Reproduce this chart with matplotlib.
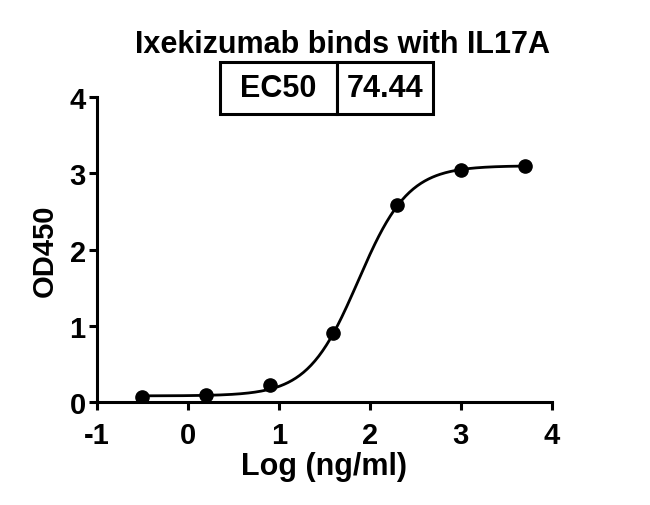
import matplotlib
matplotlib.use("Agg")
import matplotlib.pyplot as plt
import numpy as np

# measured points (log concentration vs OD450)
log_conc = [-0.5, 0.2, 0.9, 1.6, 2.3, 3.0, 3.7]
od450 = [0.07, 0.09, 0.22, 0.91, 2.58, 3.04, 3.10]

# 4PL fit parameters
bottom = 0.08
top = 3.10
ec50 = 74.44
hill = 1.57

plt.rcParams['font.family'] = ['Liberation Sans', 'DejaVu Sans']
plt.rcParams['font.weight'] = 'bold'
plt.rcParams['axes.unicode_minus'] = False

fig = plt.figure(figsize=(6.5, 5.06), dpi=100)
ax = fig.add_axes([0.149, 0.2036, 0.700, 0.6024])

xs = np.linspace(-0.5, 3.7, 300)
fit = bottom + (top - bottom) / (1 + 10 ** ((np.log10(ec50) - xs) * hill))
ax.plot(xs, fit, color='black', lw=2)
ax.plot(log_conc, od450, 'o', color='black', ms=9.5, zorder=3)

ax.set_xlim(-1, 4)
ax.set_ylim(0, 4)
ax.set_xticks([-1, 0, 1, 2, 3, 4])
ax.set_yticks([0, 1, 2, 3, 4])
for s in ['top', 'right']:
    ax.spines[s].set_visible(False)
for s in ['left', 'bottom']:
    ax.spines[s].set_linewidth(2.2)
ax.tick_params(width=2.2, length=6, labelsize=21)
ax.tick_params(axis='x', pad=8)
ax.tick_params(axis='y', pad=2)
for lab in ax.get_xticklabels() + ax.get_yticklabels():
    lab.set_fontweight('bold')

ax.set_xlabel('Log (ng/ml)', fontsize=22, fontweight='bold', labelpad=1)
ax.set_ylabel('OD450', fontsize=21, fontweight='bold', labelpad=8)
fig.text(0.527, 0.895, 'Ixekizumab binds with IL17A', ha='center', va='baseline',
         fontsize=22, fontweight='bold')

tbl = ax.table(cellText=[['EC50', '%.2f' % ec50]], colWidths=[0.26, 0.21],
               bbox=[0.27, 0.944, 0.468, 0.171], cellLoc='center')
tbl.auto_set_font_size(False)
for cell in tbl.get_celld().values():
    cell.set_linewidth(2.2)
    cell.get_text().set_fontsize(22)
    cell.get_text().set_fontweight('bold')

fig.savefig('out.png', dpi=100)
